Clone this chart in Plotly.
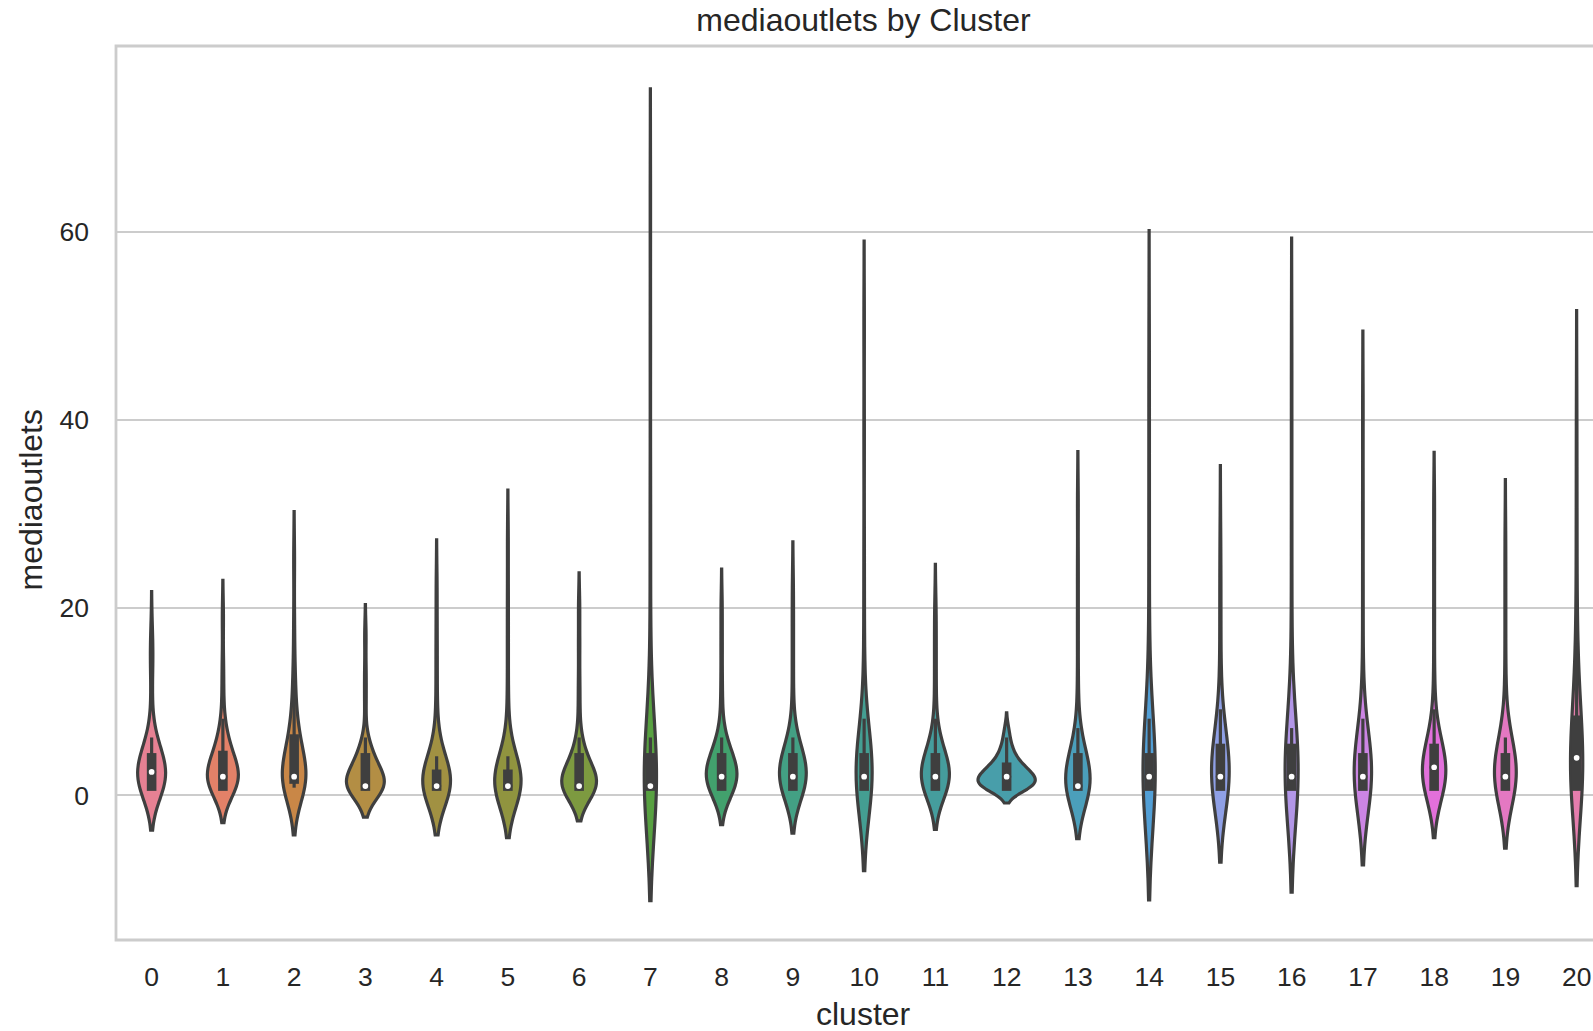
import math
import colorsys
import numpy as np
import plotly.graph_objects as go

# ---------------- data ----------------
clusters = list(range(21))
tick_labels = [str(c) for c in clusters]

cluster_0 = [1,1,1,1,1,1,1,1,1,1,1, 2,2,2,2,2,2,2,2,2, 3,3,3,3,3,3, 4,4,4,4,4, 5,5,5, 6,6, 10,14,15,17]
cluster_1 = [1,1,1,1,1,1,1,1,1,1,1, 2,2,2,2,2,2,2,2,2,2, 3,3,3,3,3, 4,4,4,4, 5,5,5, 6,6, 7,8,11,14,19]
cluster_2 = [1,1,1,1,1,1,1,1,1,1, 2,2,2,2,2,2,2,2,2,2,2, 3,3,3,3, 4,4, 5,5, 6,6,6, 7,7, 8,10,12,13,18,25]
cluster_3 = [1,1,1,1,1,1,1,1,1,1,1,1,1,1,1,1,1,1,1,1,1, 2,2,2,2,2, 3,3,3, 4,4,4,4,4, 5,5, 6, 10,13,17]
cluster_4 = [1,1,1,1,1,1,1,1,1,1,1,1,1,1,1,1,1,1,1,1,1, 2,2,2,2,2,2,2,2,2, 3,3, 4,4, 5, 6, 9,13,17,22]
cluster_5 = [1,1,1,1,1,1,1,1,1,1,1,1,1,1,1,1,1,1,1,1,1, 2,2,2,2,2,2,2,2,2, 3,3, 4,4, 5, 7, 11,16,21,27]
cluster_6 = [1,1,1,1,1,1,1,1,1,1,1,1,1,1,1,1,1,1,1,1,1, 2,2,2,2,2,2, 3,3, 4,4,4,4, 5,5, 6, 9,12,16,20]
cluster_7 = [1,1,1,1,1,1,1,1,1,1,1,1,1,1,1,1,1,1,1,1,1, 2,2,2,2, 3,3,3, 4,4,4, 5,5, 6,6, 15,24,33,48,63]
cluster_8 = [1,1,1,1,1,1,1,1,1,1,1, 2,2,2,2,2,2,2,2,2,2, 3,3,3,3,3, 4,4,4,4,4, 5,5,5, 6,6, 9,12,16,20]
cluster_9 = [1,1,1,1,1,1,1,1,1,1,1, 2,2,2,2,2,2,2,2,2,2, 3,3,3,3,3, 4,4,4,4,4, 5,5,5, 6,6, 10,14,18,22]
cluster_10 = [1,1,1,1,1,1,1,1,1,1,1, 2,2,2,2,2,2,2,2,2,2, 3,3,3,3,3, 4,4,4,4,4, 5,5, 6, 8, 12,18,26,38,50]
cluster_11 = [1,1,1,1,1,1,1,1,1,1,1, 2,2,2,2,2,2,2,2,2,2, 3,3,3,3,3, 4,4,4,4,4, 5,5, 6,6, 8, 11,14,17,20]
cluster_12 = [1,1,1,1,1,1,1,1,1,1,1,1, 2,2,2,2,2,2,2,2,2,2, 3,3,3,3,3,3, 4,4,4, 5,5, 6, 7]
cluster_13 = [1,1,1,1,1,1,1,1,1,1,1,1,1,1,1,1,1,1,1,1,1, 2,2,2,2, 3,3,3, 4,4,4,4, 5,5, 6, 7, 12,18,24,31]
cluster_14 = [1,1,1,1,1,1,1,1,1,1,1, 2,2,2,2,2,2,2,2,2,2, 3,3,3,3,3, 4,4,4,4,4, 5,5, 6, 8, 14,22,30,39,48]
cluster_15 = [1,1,1,1,1,1,1,1,1,1,1, 2,2,2,2,2,2,2,2,2,2, 3,3,3,3, 4,4,4,4, 5,5,5, 6,6, 7, 9, 13,18,22,27]
cluster_16 = [1,1,1,1,1,1,1,1,1,1,1, 2,2,2,2,2,2,2,2,2,2, 3,3,3,3, 4,4,4,4, 5,5,5, 6,6, 7, 12,20,28,38,48]
cluster_17 = [1,1,1,1,1,1,1,1,1,1,1, 2,2,2,2,2,2,2,2,2,2, 3,3,3,3,3, 4,4,4,4,4, 5,5, 6,6, 8, 14,22,31,41]
cluster_18 = [1,1,1,1,1,1,1,1,1,1,1, 2,2,2,2,2,2, 3,3,3,3,3,3, 4,4,4,4,4, 5,5,5,5, 6,6, 7, 9, 13,19,25,31]
cluster_19 = [1,1,1,1,1,1,1,1,1,1,1, 2,2,2,2,2,2,2,2,2,2, 3,3,3,3,3, 4,4,4,4,4, 5,5,5, 6,6, 10,15,21,27]
cluster_20 = [1,1,1,1,1,1,1,1,1,1,1, 2,2,2,2,2, 3,3,3, 4,4,4, 5,5, 6,6, 7,7,7, 8,8, 10,10, 12, 14, 16,21,27,33,41]

# KDE bandwidth per cluster (estimated from the violin extents)
bandwidths = [2.35, 1.95, 2.6, 1.65, 2.6, 2.75, 1.85, 6.1, 2.05, 2.5, 4.5,
              2.3, 0.9, 2.8, 6.05, 4.05, 5.65, 4.2, 2.75, 3.3, 5.3]

samples = [cluster_0, cluster_1, cluster_2, cluster_3, cluster_4, cluster_5, cluster_6,
           cluster_7, cluster_8, cluster_9, cluster_10, cluster_11, cluster_12, cluster_13,
           cluster_14, cluster_15, cluster_16, cluster_17, cluster_18, cluster_19, cluster_20]

# ---------------- seaborn-like husl palette ----------------
_M = [[3.2406, -1.5372, -0.4986],
      [-0.9689, 1.8758, 0.0415],
      [0.0557, -0.2040, 1.0570]]
_refU, _refV, _lab_k = 0.19784, 0.46834, 903.3


def _max_chroma(L, H):
    hrad = math.radians(H)
    sinH, cosH = math.sin(hrad), math.cos(hrad)
    sub1 = math.pow(L + 16, 3.0) / 1560896.0
    sub2 = sub1 if sub1 > 0.008856 else (L / 903.3)
    result = float("inf")
    for m1, m2, m3 in _M:
        top = (0.99915 * m1 + 1.05122 * m2 + 1.14460 * m3) * sub2
        rbottom = 0.86330 * m3 - 0.17266 * m2
        lbottom = 0.12949 * m3 - 0.38848 * m1
        bottom = (rbottom * sinH + lbottom * cosH) * sub2
        for t in (0.0, 1.0):
            C = L * (top - 1.05122 * t) / (bottom + 0.17266 * sinH * t)
            if 0.0 < C < result:
                result = C
    return result


def _from_linear(c):
    return 12.92 * c if c <= 0.0031308 else 1.055 * math.pow(c, 1 / 2.4) - 0.055


def husl_to_rgb(h, s, l):
    C = _max_chroma(l, h) / 100.0 * s
    U = math.cos(math.radians(h)) * C
    V = math.sin(math.radians(h)) * C
    varY = math.pow((l + 16.0) / 116.0, 3.0) if l > 8 else l / _lab_k
    varU = U / (13.0 * l) + _refU
    varV = V / (13.0 * l) + _refV
    Y = varY
    X = -(9.0 * Y * varU) / ((varU - 4.0) * varV - varU * varV)
    Z = (9.0 * Y - 15.0 * varV * Y - varV * X) / (3.0 * varV)
    rgb = [_from_linear(r[0] * X + r[1] * Y + r[2] * Z) for r in _M]
    return [min(1.0, max(0.0, c)) for c in rgb]


n = len(clusters)
hues = (np.linspace(0, 1, n + 1)[:-1] + 0.01) % 1 * 359
colors_rgb = []
for hh in hues:
    r, g, b = husl_to_rgb(hh, 0.9 * 99, 0.65 * 99)
    H_, Lh, S_ = colorsys.rgb_to_hls(r, g, b)
    colors_rgb.append(colorsys.hls_to_rgb(H_, Lh, S_ * 0.75))
lum = min(colorsys.rgb_to_hls(*c)[1] for c in colors_rgb) * 0.6
gray = "#%02x%02x%02x" % (round(lum * 255), round(lum * 255), round(lum * 255))
colors = ["#%02x%02x%02x" % tuple(round(v * 255) for v in c) for c in colors_rgb]


# same-area scaling (seaborn scale="area"): width proportional to each KDE's peak
def kde_peak(vals, bw):
    arr = np.asarray(vals, dtype=float)
    grid = np.linspace(arr.min() - 2 * bw, arr.max() + 2 * bw, 2000)
    dens = np.exp(-0.5 * ((grid[:, None] - arr[None, :]) / bw) ** 2).sum(axis=1)
    dens /= len(arr) * bw * math.sqrt(2 * math.pi)
    return dens.max()


peaks = [kde_peak(v, b) for v, b in zip(samples, bandwidths)]
widths = [0.8 * p / max(peaks) for p in peaks]

# ---------------- figure ----------------
W, H = 1593, 1031
ML, MT, MB = 116, 46, 91
plot_h = H - MT - MB
y_lo, y_hi = -15.38, 79.75
px_per_unit = plot_h / (y_hi - y_lo)

LW = 3.2
BOX_LW = 9.6
FONT = "Liberation Sans, Arial, sans-serif"
TXT = "#262626"

fig = go.Figure()
for i, vals in enumerate(samples):
    fig.add_trace(go.Violin(
        x=[clusters[i]] * len(vals), y=vals,
        bandwidth=bandwidths[i], spanmode="soft",
        scalemode="width", width=widths[i],
        fillcolor=colors[i], line=dict(color=gray, width=LW),
        points=False, box_visible=False, meanline_visible=False,
        showlegend=False, hoverinfo="skip", opacity=1,
    ))

cap_box = BOX_LW / 2 / px_per_unit
cap_w = LW / 2 / px_per_unit
for i, vals in enumerate(samples):
    arr = np.asarray(vals, dtype=float)
    q1, med, q3 = np.percentile(arr, [25, 50, 75])
    lim = 1.5 * (q3 - q1)
    h1 = arr[arr >= q1 - lim].min()
    h2 = arr[arr <= q3 + lim].max()
    xc = clusters[i]
    fig.add_trace(go.Scatter(x=[xc, xc], y=[h1 - cap_w, h2 + cap_w], mode="lines",
                             line=dict(color=gray, width=LW), showlegend=False, hoverinfo="skip"))
    fig.add_trace(go.Scatter(x=[xc, xc], y=[q1 - cap_box, q3 + cap_box], mode="lines",
                             line=dict(color=gray, width=BOX_LW), showlegend=False, hoverinfo="skip"))
    fig.add_trace(go.Scatter(x=[xc], y=[med], mode="markers",
                             marker=dict(color="white", size=7.5, line=dict(color=gray, width=1.8)),
                             showlegend=False, hoverinfo="skip"))

fig.update_layout(
    width=W, height=H,
    margin=dict(l=ML, r=0, t=MT, b=MB),
    paper_bgcolor="white", plot_bgcolor="white",
    violinmode="overlay",
    font=dict(family=FONT, color=TXT),
    title=dict(text="mediaoutlets by Cluster", x=863.5 / W, xanchor="center",
               y=1 - 20 / H, yanchor="middle", font=dict(size=32, family=FONT, color=TXT)),
    xaxis=dict(range=[-0.5, (W - ML) / 71.25 - 0.5], tickvals=clusters, ticktext=tick_labels,
               showgrid=False, zeroline=False, showline=False, ticks="",
               tickfont=dict(size=26.5, family=FONT, color=TXT), ticklabelstandoff=18),
    yaxis=dict(range=[y_lo, y_hi], tickvals=[0, 20, 40, 60], ticktext=["0", "20", "40", "60"],
               showgrid=True, gridcolor="#cccccc", gridwidth=2, zeroline=False, showline=False,
               ticks="", tickfont=dict(size=26.5, family=FONT, color=TXT), ticklabelstandoff=26),
    shapes=[dict(type="rect", xref="paper", yref="paper", x0=0, x1=1.05, y0=0, y1=1,
                 line=dict(color="#cccccc", width=2.8), layer="below")],
    annotations=[
        dict(text="cluster", xref="paper", yref="paper", x=(863.5 - ML) / (W - ML),
             y=(H - MB - 1014) / plot_h, xanchor="center", yanchor="middle", showarrow=False,
             font=dict(size=32, family=FONT, color=TXT)),
        dict(text="mediaoutlets", xref="paper", yref="paper", x=(30.5 - ML) / (W - ML),
             y=(H - MB - 500) / plot_h, xanchor="center", yanchor="middle", showarrow=False,
             textangle=-90, font=dict(size=32, family=FONT, color=TXT)),
    ],
)

fig.write_html("out.html")
